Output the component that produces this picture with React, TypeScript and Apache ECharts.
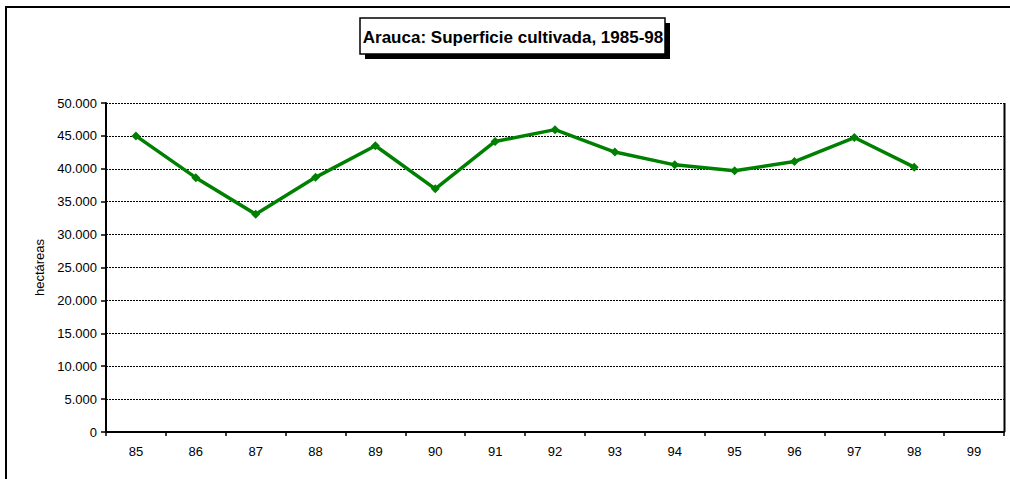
import React, { useEffect, useRef } from "react";
import * as echarts from "echarts";

const years = ["85", "86", "87", "88", "89", "90", "91", "92", "93", "94", "95", "96", "97", "98", "99"];
const hectareas = [45000, 38650, 33100, 38700, 43500, 36950, 44150, 45950, 42550, 40600, 39700, 41100, 44750, 40250, null];
const yTicks = { min: 0, max: 50000, interval: 5000 };
const titleText = "Arauca: Superficie cultivada, 1985-98";
const yName = "hectáreas";

const fmt = (v: number) => (v === 0 ? "0" : v.toLocaleString("de-DE"));

export default function App() {
  const ref = useRef<HTMLDivElement>(null);
  useEffect(() => {
    const chart = echarts.init(ref.current!, null, { renderer: "svg" });
    const font = "'Liberation Sans', Arial, sans-serif";
    chart.setOption({
      animation: false,
      backgroundColor: "#ffffff",
      textStyle: { fontFamily: font },
      graphic: [
        { type: "rect", shape: { x: 6, y: 7, width: 1020, height: 490 }, style: { fill: "none", stroke: "#000", lineWidth: 2 }, silent: true },
        { type: "rect", shape: { x: 365, y: 23, width: 305, height: 36 }, style: { fill: "#000" }, z: 10 },
        { type: "rect", shape: { x: 360, y: 18, width: 305, height: 36 }, style: { fill: "#fff", stroke: "#000", lineWidth: 1.5 }, z: 11 },
        {
          type: "text", x: 513, y: 37, z: 12,
          style: { text: titleText, fill: "#000", font: `bold 17px ${font}`, align: "center", verticalAlign: "middle" },
        },
        { type: "line", shape: { x1: 1004.5, y1: 103, x2: 1004.5, y2: 432 }, style: { stroke: "#000", lineWidth: 2 }, z: 5 },
      ],
      grid: { left: 106, right: 6, top: 103, bottom: 47, containLabel: false },
      xAxis: {
        type: "category",
        data: years,
        boundaryGap: true,
        axisLine: { lineStyle: { color: "#000", width: 2 } },
        axisTick: { show: true, length: 4, alignWithLabel: false, lineStyle: { color: "#000", width: 1.5 } },
        axisLabel: { color: "#000", fontSize: 13, fontFamily: font, margin: 13 },
        splitLine: { show: false },
      },
      yAxis: {
        type: "value",
        min: yTicks.min,
        max: yTicks.max,
        interval: yTicks.interval,
        name: yName,
        nameLocation: "middle",
        nameGap: 59,
        nameTextStyle: { color: "#000", fontSize: 13, fontFamily: font },
        axisLine: { show: true, lineStyle: { color: "#000", width: 2 } },
        axisTick: { show: true, length: 5, lineStyle: { color: "#000", width: 1.5 } },
        axisLabel: { color: "#000", fontSize: 13, fontFamily: font, margin: 9, formatter: fmt },
        splitLine: { show: true, lineStyle: { color: "#000", width: 1, type: [2, 1] } },
      },
      series: [
        {
          type: "line",
          data: hectareas,
          symbol: "diamond",
          symbolSize: 9,
          lineStyle: { color: "#008000", width: 3.5 },
          itemStyle: { color: "#008000" },
          connectNulls: false,
        },
      ],
    });
    return () => chart.dispose();
  }, []);
  return <div ref={ref} style={{ position: "fixed", left: 0, top: 0, width: 1010, height: 479 }} />;
}
